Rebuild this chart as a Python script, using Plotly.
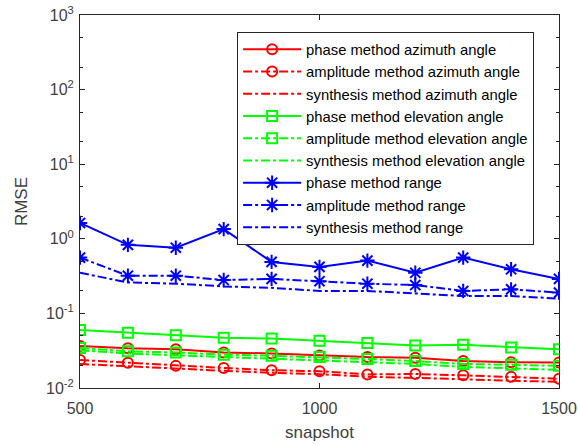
import plotly.graph_objects as go

snapshot = [500, 600, 700, 800, 900, 1000, 1100, 1200, 1300, 1400, 1500]

phase_az = [0.0365, 0.034, 0.033, 0.030, 0.029, 0.0273, 0.026, 0.0255, 0.023, 0.0222, 0.022]
amp_az = [0.0237, 0.0218, 0.0198, 0.0186, 0.0173, 0.0168, 0.0152, 0.0154, 0.0148, 0.0141, 0.0133]
syn_az = [0.021, 0.0195, 0.018, 0.017, 0.016, 0.0153, 0.0142, 0.0138, 0.0131, 0.0125, 0.0121]

phase_el = [0.060, 0.055, 0.051, 0.047, 0.046, 0.043, 0.040, 0.037, 0.038, 0.035, 0.033]
amp_el = [0.0345, 0.031, 0.030, 0.028, 0.027, 0.026, 0.0245, 0.023, 0.021, 0.0205, 0.0198]
syn_el = [0.032, 0.029, 0.0275, 0.026, 0.025, 0.0238, 0.0222, 0.021, 0.0192, 0.0185, 0.0175]

phase_rg = [1.63, 0.83, 0.76, 1.35, 0.49, 0.42, 0.51, 0.35, 0.56, 0.39, 0.29]
amp_rg = [0.56, 0.32, 0.32, 0.28, 0.29, 0.27, 0.25, 0.24, 0.20, 0.21, 0.19]
syn_rg = [0.35, 0.26, 0.25, 0.23, 0.22, 0.20, 0.20, 0.186, 0.171, 0.171, 0.158]

names = [
    "phase method azimuth angle", "amplitude method azimuth angle", "synthesis method azimuth angle",
    "phase method elevation angle", "amplitude method elevation angle", "synthesis method elevation angle",
    "phase method range", "amplitude method range", "synthesis method range",
]
series = [phase_az, amp_az, syn_az, phase_el, amp_el, syn_el, phase_rg, amp_rg, syn_rg]
colors = ["#ff0000"] * 3 + ["#00ff00"] * 3 + ["#0000ff"] * 3
symbols = ["circle-open", "circle-open", None, "square-open", "square-open", None,
           "asterisk-open", "asterisk-open", None]
dashes = ["solid", "dashdot", "dashdot"] * 3

fig = go.Figure()
for n, s, c, sym, d in zip(names, series, colors, symbols, dashes):
    mode = "lines+markers" if sym else "lines"
    if sym:
        sz = 12 if sym.startswith("asterisk") else 10
        marker = dict(symbol=sym, size=sz, color=c, line=dict(color=c, width=2))
    else:
        marker = None
    fig.add_trace(go.Scatter(x=snapshot, y=s, name=n, mode=mode,
                             line=dict(color=c, width=2, dash=d), marker=marker))

ytv = [1e-2, 1e-1, 1, 10, 100, 1000]
ytt = ["10<sup>-2</sup>", "10<sup>-1</sup>", "10<sup>0</sup>", "10<sup>1</sup>", "10<sup>2</sup>", "10<sup>3</sup>"]

fig.update_layout(
    width=578, height=445,
    margin=dict(l=80, r=19, t=15, b=57),
    paper_bgcolor="white", plot_bgcolor="white",
    font=dict(family="Liberation Sans, Arial", size=16, color="#404040"),
    showlegend=True,
    legend=dict(x=0.328, y=0.954, xanchor="left", yanchor="top",
                bgcolor="white", bordercolor="#262626", borderwidth=1,
                font=dict(size=14.8, color="#000000"),
                itemwidth=58, tracegroupgap=0),
    xaxis=dict(range=[500, 1500], tickvals=[500, 1000, 1500], automargin=False,
               showline=True, linecolor="#262626", linewidth=1, mirror="ticks",
               ticks="inside", ticklen=5, tickcolor="#262626", showgrid=False, zeroline=False,
               ticklabelstandoff=6,
               title=dict(text="snapshot", font=dict(size=17), standoff=9)),
    yaxis=dict(type="log", range=[-2, 3], tickvals=ytv, ticktext=ytt, automargin=False,
               showline=True, linecolor="#262626", linewidth=1, mirror="ticks",
               ticks="inside", ticklen=5, tickcolor="#262626", showgrid=False, zeroline=False,
               ticklabelstandoff=2,
               minor=dict(ticks="inside", ticklen=3, tickcolor="#262626", showgrid=False),
               title=dict(text="RMSE", font=dict(size=17), standoff=14)),
)

fig.write_html("out.html")
